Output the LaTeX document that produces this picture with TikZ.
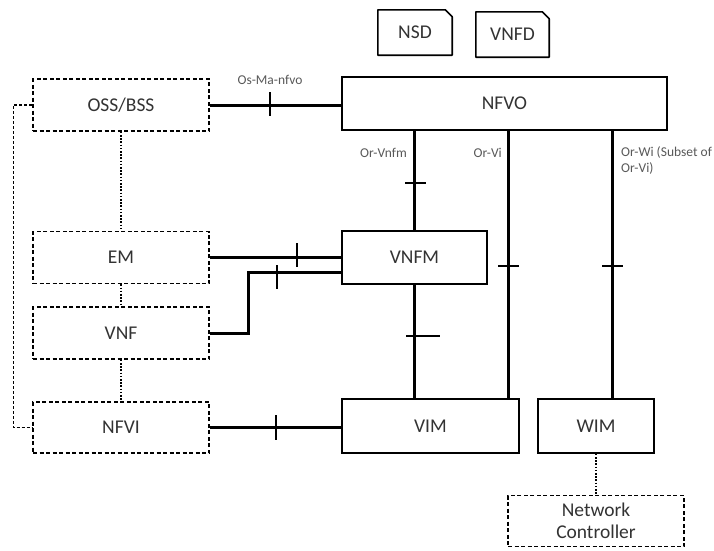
\documentclass[tikz,border=0pt]{standalone}
\usepackage{fontspec}
\setmainfont{Carlito}
\usetikzlibrary{calc}
\begin{document}
\begin{tikzpicture}[x=1pt,y=-1pt,
 solidbox/.style={draw=black, line width=1.6pt, rectangle, inner sep=0pt, font=\fontsize{19.5}{23}\selectfont, text=black!80, align=center},
 dashbox/.style={solidbox, dash pattern=on 4pt off 2.5pt},
 docbox/.style={rectangle, inner sep=0pt, minimum width=74pt, minimum height=45pt, font=\fontsize{19.5}{23}\selectfont, text=black!80},
 docline/.style={line width=1.6pt, line join=round},
 iface/.style={line width=3pt},
 tickmark/.style={line width=2.4pt},
 dotline/.style={line width=2.2pt, dash pattern=on 1.6pt off 1.6pt},
 thindash/.style={line width=1.1pt, dash pattern=on 3pt off 2pt},
 lbl/.style={font=\fontsize{13.5}{16}\selectfont, text=black!65, inner sep=0pt, align=left}]
\useasboundingbox[fill=white] (0,0) rectangle (714,550);

% documents
\node[docbox] (nsd) at (415,32.5) {NSD};
\draw[docline] (nsd.south west) -- (nsd.north west) -- ([xshift=-7pt]nsd.north east) -- ([yshift=-7pt]nsd.north east) -- (nsd.south east) -- cycle;
\node[docbox, minimum width=73pt] (vnfd) at (512.5,34.5) {VNFD};
\draw[docline] (vnfd.south west) -- (vnfd.north west) -- ([xshift=-7pt]vnfd.north east) -- ([yshift=-7pt]vnfd.north east) -- (vnfd.south east) -- cycle;

% boxes
\node[dashbox, minimum width=176pt, minimum height=52pt] (oss) at (121,105) {OSS/BSS};
\node[dashbox, minimum width=176pt, minimum height=52pt] (em) at (121,257.5) {EM};
\node[dashbox, minimum width=176pt, minimum height=52pt] (vnf) at (121,333) {VNF};
\node[dashbox, minimum width=176pt, minimum height=51pt] (nfvi) at (121,427.5) {NFVI};
\node[solidbox, minimum width=325pt, minimum height=53pt] (nfvo) at (504.5,103.5) {NFVO};
\node[solidbox, minimum width=145pt, minimum height=53pt] (vnfm) at (414.5,257.5) {VNFM};
\node[solidbox, minimum width=177pt, minimum height=54pt] (vim) at (430.5,426) {VIM};
\node[solidbox, minimum width=116pt, minimum height=54pt] (wim) at (596,426) {WIM};
\node[dashbox, minimum width=176pt, minimum height=51pt] (nc) at (596,521) {Network\\[-1pt]Controller};

% reference points
\coordinate (orvi) at ($(vim.north east)+(-11,0)$);
\coordinate (orwi) at ($(wim.north)+(16,0)$);

% interfaces
\draw[iface] (oss.east) -- (nfvo.west |- oss.east);
\draw[tickmark] (270,92) -- (270,116);
\node[lbl, anchor=center] (osmalbl) at (270,80) {Os-Ma-nfvo};

\draw[iface] (vnfm.north) -- (vnfm.north |- nfvo.south);
\draw[tickmark] (405,183) -- (426,183);
\node[lbl, anchor=east] (orvnfmlbl) at (407,153) {Or-Vnfm};

\draw[iface] (orvi) -- (orvi |- nfvo.south);
\draw[tickmark] (498,266) -- (519,266);
\node[lbl, anchor=east] (orvilbl) at (502,153) {Or-Vi};

\draw[iface] (orwi) -- (orwi |- nfvo.south);
\draw[tickmark] (602,266) -- (623,266);
\node[lbl, anchor=north west] (orwilbl) at (621,146) {Or-Wi (Subset of\\Or-Vi)};

\draw[iface] (em.east) -- (vnfm.west |- em.east);
\draw[tickmark] (297,243) -- (297,267);

\draw[iface] (vnf.east) -- ++(39,0) |- ([yshift=-14.5pt]vnfm.west);
\draw[tickmark] (277,265) -- (277,289);

\draw[iface] (vnfm.south) -- (vnfm.south |- vim.north);
\draw[tickmark] (406,336) -- (440,336);

\draw[iface] (nfvi.east) -- (vim.west |- nfvi.east);
\draw[tickmark] (276,415) -- (276,440);

% dotted relations
\draw[dotline] (oss.south) -- (em.north);
\draw[dotline] (em.south) -- (vnf.north);
\draw[dotline] (vnf.south) -- (nfvi.north);
\draw[dotline] (wim.south) -- (nc.north);

% left dashed link
\draw[thindash] (oss.west) -- ++(-19,0) |- (nfvi.west);
\end{tikzpicture}
\end{document}
